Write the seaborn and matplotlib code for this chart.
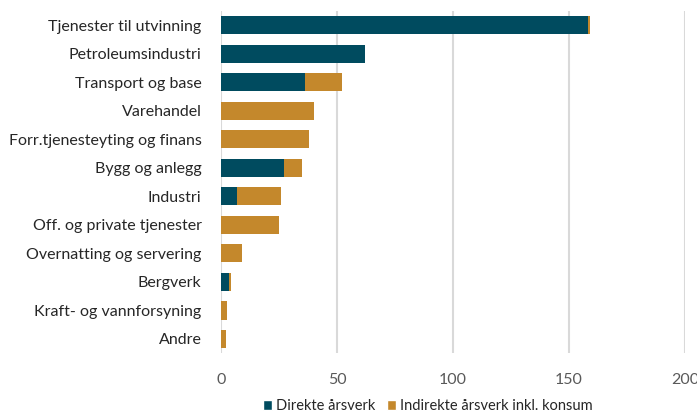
import matplotlib
matplotlib.use("Agg")
import matplotlib.pyplot as plt
import seaborn as sns
import pandas as pd
from matplotlib.patches import Patch

categories = ["Tjenester til utvinning", "Petroleumsindustri", "Transport og base",
              "Varehandel", "Forr.tjenesteyting og finans", "Bygg og anlegg", "Industri",
              "Off. og private tjenester", "Overnatting og servering", "Bergverk",
              "Kraft- og vannforsyning", "Andre"]
direkte = [158, 62, 36, 0, 0, 27, 7, 0, 0, 3.3, 0, 0]
indirekte = [1, 0, 16, 40, 38, 8, 19, 25, 9, 1.1, 2.7, 2]
series_names = ["Direkte årsverk", "Indirekte årsverk inkl. konsum"]
xticks = [0, 50, 100, 150, 200]

c_dir = "#004B5F"
c_ind = "#C4882C"

df = pd.DataFrame({"kategori": categories, "direkte": direkte, "indirekte": indirekte})
df["total"] = df["direkte"] + df["indirekte"]

sns.set_theme(style="white")
plt.rcParams["font.family"] = ["Lato", "DejaVu Sans"]

fig = plt.figure(figsize=(6.97, 4.17), dpi=100)
ax = fig.add_axes([0.317, 0.153, 0.666, 0.821])

sns.barplot(data=df, y="kategori", x="total", color=c_ind, saturation=1,
            width=0.64, ax=ax, orient="h", linewidth=0)
sns.barplot(data=df, y="kategori", x="direkte", color=c_dir, saturation=1,
            width=0.64, ax=ax, orient="h", linewidth=0)

ax.set_xlim(0, 200)
ax.set_xticks(xticks)
ax.set_xticklabels([str(t) for t in xticks])
ax.set_ylim(11.5, -0.5)
ax.set_xlabel("")
ax.set_ylabel("")
for s in ax.spines.values():
    s.set_visible(False)
ax.grid(axis="x", color="#D9D9D9", linewidth=1.5)
ax.set_axisbelow(True)
ax.tick_params(axis="x", colors="#595959", labelsize=11.5, length=0, pad=14)
ax.tick_params(axis="y", colors="#262626", labelsize=11.5, length=0, pad=14)
for lbl in ax.get_xticklabels():
    lbl.set_color("#595959")
for lbl in ax.get_yticklabels():
    lbl.set_color("#262626")

handles = [Patch(facecolor=c_dir), Patch(facecolor=c_ind)]
fig.legend(handles, series_names, loc="center", bbox_to_anchor=(0.614, 0.026),
           ncol=2, frameon=False, fontsize=10.5, handlelength=0.6, handleheight=0.6,
           handletextpad=0.3, columnspacing=0.8, labelcolor="#262626")

fig.savefig("out.png", dpi=100)
